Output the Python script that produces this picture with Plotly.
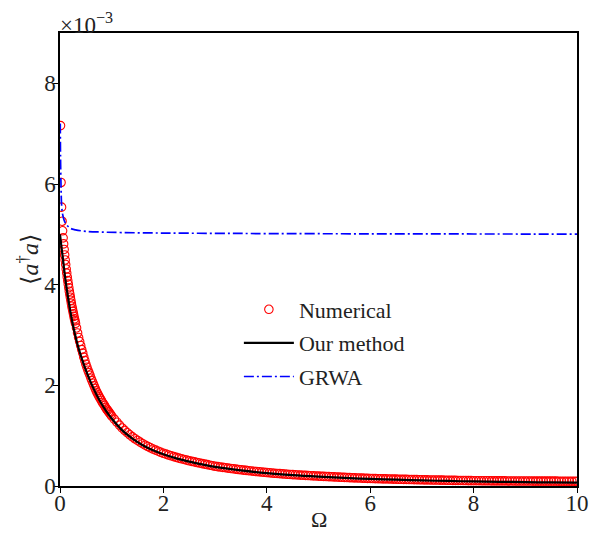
import plotly.graph_objects as go

# Numerical (values in units of 1e-3)
omega_num = [
    0.01, 0.02, 0.03, 0.04, 0.05, 0.06, 0.07, 0.08, 0.09, 0.10,
    0.11, 0.12, 0.13, 0.14, 0.15, 0.16, 0.17, 0.18, 0.19, 0.20,
    0.21, 0.22, 0.23, 0.24, 0.25, 0.26, 0.27, 0.28, 0.29, 0.30,
    0.32, 0.34, 0.36, 0.38, 0.40, 0.42, 0.44, 0.46, 0.48, 0.50,
    0.52, 0.54, 0.56, 0.58, 0.60, 0.62, 0.64, 0.66, 0.68, 0.70,
    0.72, 0.74, 0.76, 0.78, 0.80, 0.82, 0.84, 0.86, 0.88, 0.90,
    0.92, 0.94, 0.96, 0.98, 1.00,
    1.05, 1.10, 1.15, 1.20, 1.25, 1.30, 1.35, 1.40, 1.45, 1.50,
    1.55, 1.60, 1.65, 1.70, 1.75, 1.80, 1.85, 1.90, 1.95, 2.00,
    2.05, 2.10, 2.15, 2.20, 2.25, 2.30, 2.35, 2.40, 2.45, 2.50,
    2.55, 2.60, 2.65, 2.70, 2.75, 2.80, 2.85, 2.90, 2.95, 3.00,
    3.05, 3.10, 3.15, 3.20, 3.25, 3.30, 3.35, 3.40, 3.45, 3.50,
    3.55, 3.60, 3.65, 3.70, 3.75, 3.80, 3.85, 3.90, 3.95, 4.00,
    4.05, 4.10, 4.15, 4.20, 4.25, 4.30, 4.35, 4.40, 4.45, 4.50,
    4.55, 4.60, 4.65, 4.70, 4.75, 4.80, 4.85, 4.90, 4.95, 5.00,
    5.05, 5.10, 5.15, 5.20, 5.25, 5.30, 5.35, 5.40, 5.45, 5.50,
    5.55, 5.60, 5.65, 5.70, 5.75, 5.80, 5.85, 5.90, 5.95, 6.00,
    6.05, 6.10, 6.15, 6.20, 6.25, 6.30, 6.35, 6.40, 6.45, 6.50,
    6.55, 6.60, 6.65, 6.70, 6.75, 6.80, 6.85, 6.90, 6.95, 7.00,
    7.05, 7.10, 7.15, 7.20, 7.25, 7.30, 7.35, 7.40, 7.45, 7.50,
    7.55, 7.60, 7.65, 7.70, 7.75, 7.80, 7.85, 7.90, 7.95, 8.00,
    8.05, 8.10, 8.15, 8.20, 8.25, 8.30, 8.35, 8.40, 8.45, 8.50,
    8.55, 8.60, 8.65, 8.70, 8.75, 8.80, 8.85, 8.90, 8.95, 9.00,
    9.05, 9.10, 9.15, 9.20, 9.25, 9.30, 9.35, 9.40, 9.45, 9.50,
    9.55, 9.60, 9.65, 9.70, 9.75, 9.80, 9.85, 9.90, 9.95, 10.00,
]
n_num = [
    7.16, 6.03, 5.54, 5.26, 5.07, 4.93, 4.81, 4.70, 4.59, 4.49,
    4.40, 4.31, 4.23, 4.15, 4.08, 4.01, 3.94, 3.87, 3.81, 3.75,
    3.69, 3.63, 3.57, 3.52, 3.47, 3.42, 3.37, 3.32, 3.28, 3.23,
    3.14, 3.04, 2.95, 2.87, 2.79, 2.71, 2.64, 2.56, 2.49, 2.42,
    2.36, 2.30, 2.25, 2.20, 2.14, 2.09, 2.04, 1.99, 1.94, 1.89,
    1.85, 1.81, 1.77, 1.735, 1.70, 1.66, 1.63, 1.60, 1.56, 1.53,
    1.505, 1.475, 1.45, 1.42, 1.39,
    1.328, 1.267, 1.21, 1.153, 1.106, 1.059, 1.017, 0.976, 0.939, 0.905,
    0.871, 0.84, 0.811, 0.785, 0.759, 0.734, 0.712, 0.691, 0.67, 0.65,
    0.633, 0.616, 0.60, 0.584, 0.568, 0.554, 0.54, 0.527, 0.514, 0.501,
    0.49, 0.479, 0.467, 0.456, 0.445, 0.434, 0.424, 0.413, 0.403, 0.392,
    0.384, 0.377, 0.370, 0.363, 0.356, 0.349, 0.342, 0.335, 0.328, 0.322,
    0.316, 0.310, 0.304, 0.299, 0.293, 0.288, 0.282, 0.277, 0.272, 0.267,
    0.262, 0.258, 0.253, 0.249, 0.245, 0.241, 0.237, 0.233, 0.229, 0.226,
    0.223, 0.220, 0.217, 0.214, 0.211, 0.208, 0.205, 0.202, 0.199, 0.196,
    0.193, 0.191, 0.188, 0.186, 0.183, 0.181, 0.178, 0.176, 0.173, 0.171,
    0.168, 0.166, 0.164, 0.162, 0.160, 0.158, 0.156, 0.154, 0.152, 0.150,
    0.148, 0.147, 0.145, 0.144, 0.142, 0.141, 0.140, 0.139, 0.137, 0.136,
    0.134, 0.133, 0.132, 0.131, 0.129, 0.128, 0.127, 0.126, 0.124, 0.123,
    0.122, 0.121, 0.120, 0.119, 0.118, 0.118, 0.117, 0.116, 0.115, 0.114,
    0.113, 0.112, 0.111, 0.110, 0.110, 0.109, 0.108, 0.107, 0.106, 0.105,
    0.105, 0.105, 0.104, 0.104, 0.103, 0.103, 0.102, 0.102, 0.101, 0.101,
    0.101, 0.101, 0.100, 0.100, 0.100, 0.099, 0.099, 0.099, 0.098, 0.098,
    0.098, 0.098, 0.097, 0.097, 0.097, 0.097, 0.096, 0.096, 0.096, 0.096,
    0.096, 0.096, 0.095, 0.095, 0.095, 0.095, 0.095, 0.095, 0.095, 0.095,
]

# Our method
omega_fit = [0.0, 0.02, 0.05, 0.10, 0.15, 0.20, 0.25, 0.30, 0.35, 0.40,
             0.50, 0.60, 0.70, 0.80, 0.90, 1.00, 1.20, 1.40, 1.60, 1.80,
             2.00, 2.25, 2.50, 2.75, 3.00, 3.50, 4.00, 4.50, 5.00, 5.50,
             6.00, 6.50, 7.00, 7.50, 8.00, 8.50, 9.00, 9.50, 10.0]
n_fit = [5.00, 4.82, 4.57, 4.14, 3.78, 3.47, 3.20, 2.97, 2.77, 2.60,
         2.30, 2.05, 1.83, 1.64, 1.48, 1.34, 1.11, 0.94, 0.81, 0.71,
         0.63, 0.55, 0.485, 0.43, 0.38, 0.31, 0.255, 0.215, 0.185, 0.16,
         0.14, 0.125, 0.11, 0.10, 0.09, 0.083, 0.077, 0.071, 0.066]

# GRWA
omega_grwa = [0.005, 0.01, 0.02, 0.03, 0.05, 0.08, 0.12, 0.2, 0.3, 0.5,
              0.8, 1.2, 2.0, 3.0, 4.0, 6.0, 8.0, 10.0]
n_grwa = [7.2, 6.55, 5.95, 5.6, 5.4, 5.28, 5.2, 5.12, 5.09, 5.06,
          5.045, 5.035, 5.025, 5.02, 5.015, 5.01, 5.007, 5.005]

x_ticks = [0, 2, 4, 6, 8, 10]
y_ticks = [0, 2, 4, 6, 8]

FONT = "Liberation Serif"
TXT = "#222222"

fig = go.Figure()
fig.add_trace(go.Scatter(
    x=omega_num, y=n_num, mode="markers", name="Numerical",
    legendgroup="a",
    marker=dict(symbol="circle-open", size=8.5, color="red", line=dict(width=1.1, color="red")),
))
fig.add_trace(go.Scatter(
    x=omega_fit, y=n_fit, mode="lines", name="Our method",
    legendgroup="b",
    line=dict(color="black", width=2.2, shape="spline"),
))
fig.add_trace(go.Scatter(
    x=omega_grwa, y=n_grwa, mode="lines", name="GRWA",
    legendgroup="c",
    line=dict(color="blue", width=1.7, dash="10px,3px,2px,3px", shape="spline"),
))

axis_common = dict(
    showline=True, linecolor="black", linewidth=1.5, mirror=True,
    ticks="outside", ticklen=5, tickwidth=1, tickcolor="black",
    showgrid=False, zeroline=False, automargin=False,
    tickfont=dict(family=FONT, size=23, color=TXT),
)

fig.update_layout(
    width=597, height=533,
    margin=dict(l=60, r=20, t=33, b=47, autoexpand=False),
    plot_bgcolor="white", paper_bgcolor="white",
    font=dict(family=FONT, color=TXT),
    xaxis=dict(range=[0, 10], tickvals=x_ticks, ticktext=[str(v) for v in x_ticks],
               ticklabelstandoff=-9, **axis_common),
    yaxis=dict(range=[0, 9], tickvals=y_ticks, ticktext=[str(v) for v in y_ticks],
               ticklabelstandoff=-7, **axis_common),
    legend=dict(x=0.346, y=0.436, xanchor="left", yanchor="top",
                font=dict(family=FONT, size=22, color=TXT), itemwidth=50,
                bgcolor="rgba(0,0,0,0)", tracegroupgap=2, traceorder="grouped"),
    annotations=[
        dict(text="×10<sup>−3</sup>", xref="paper", yref="paper",
             x=0, y=1, xanchor="left", yanchor="bottom", showarrow=False,
             xshift=-2, yshift=-7,
             font=dict(family=FONT, size=23, color=TXT)),
        dict(text="Ω", xref="paper", yref="paper",
             x=0.5, y=0, xanchor="center", yanchor="middle", showarrow=False,
             yshift=-33, font=dict(family=FONT, size=22, color=TXT)),
        dict(text="⟨<i>a</i><sup>†</sup><i>a</i>⟩", xref="paper", yref="paper",
             x=0, y=0.5, xanchor="center", yanchor="middle", showarrow=False,
             textangle=-90, xshift=-33,
             font=dict(family=FONT, size=24, color=TXT)),
    ],
)

fig.write_html("out.html", config={"displayModeBar": False},
               post_script="document.body.style.margin='0';")
